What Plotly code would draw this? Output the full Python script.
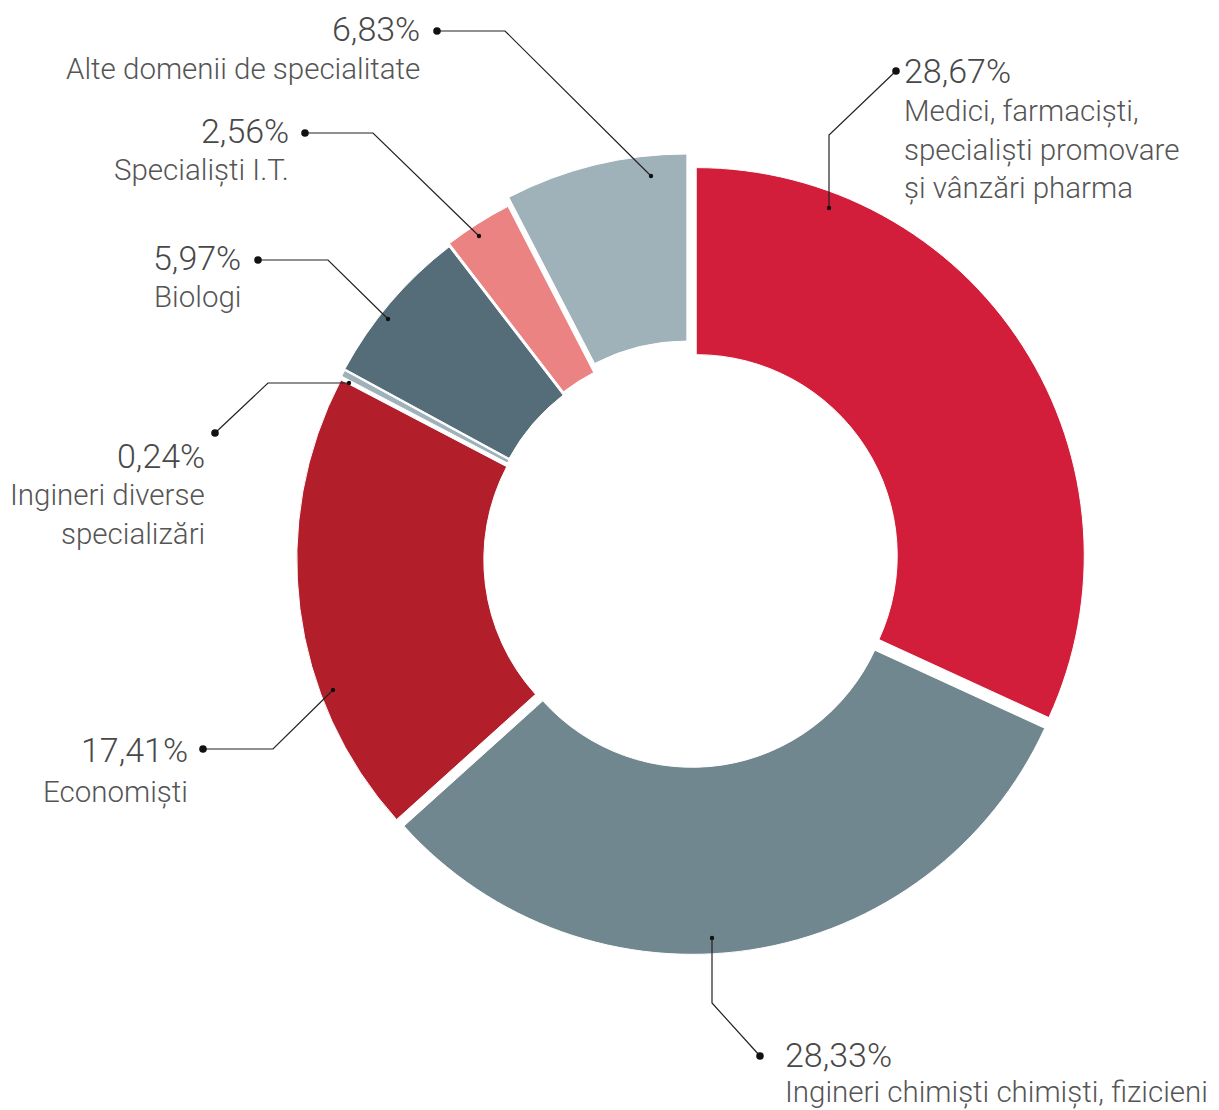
import plotly.graph_objects as go

W, H = 1219, 1110

# ---- data ----
categories = [
    "Medici, farmaciști, specialiști promovare și vânzări pharma",
    "Ingineri chimiști chimiști, fizicieni",
    "Economiști",
    "Ingineri diverse specializări",
    "Biologi",
    "Specialiști I.T.",
    "Alte domenii de specialitate",
]
values = [28.67, 28.33, 17.41, 0.24, 5.97, 2.56, 6.83]
pct_labels = ["28,67%", "28,33%", "17,41%", "0,24%", "5,97%", "2,56%", "6,83%"]
label_lines = [
    ["Medici, farmaciști,", "specialiști promovare", "și vânzări pharma"],
    ["Ingineri chimiști chimiști, fizicieni"],
    ["Economiști"],
    ["Ingineri diverse", "specializări"],
    ["Biologi"],
    ["Specialiști I.T."],
    ["Alte domenii de specialitate"],
]
colors = ["#D21E3A", "#71878F", "#B21F2A", "#A0B2B9", "#546D79", "#EB8383", "#A0B2B9"]
pulls = [0.016, 0.019, 0.016, 0.016, 0.018, 0.024, 0.045]

# ---- layout helpers (pixel -> paper) ----
def px(x):
    return x / W

def py(y):
    return 1 - y / H

cx, cy, box = 691, 559, 811
fig = go.Figure(go.Pie(
    labels=categories,
    values=values,
    hole=0.518,
    sort=False,
    direction="clockwise",
    rotation=0,
    pull=pulls,
    marker=dict(colors=colors, line=dict(color="white", width=1)),
    textinfo="none",
    hoverinfo="label+percent",
    showlegend=False,
    domain=dict(x=[px(cx - box / 2), px(cx + box / 2)],
                y=[py(cy + box / 2), py(cy - box / 2)]),
))

# leader lines: (slice dot, elbow, label dot) in pixels
leaders = [
    [(829, 208), (829, 135), (896, 71)],
    [(712, 938), (712, 1003), (760, 1056)],
    [(333, 690), (273, 749), (203, 749)],
    [(349, 383), (268, 383), (215, 433)],
    [(388, 319), (328, 260), (258, 260)],
    [(479, 236), (373, 133), (305, 133)],
    [(651, 176), (505, 31), (437, 31)],
]
# text anchors: (x, y of percent, y of first label line, align)
text_pos = [
    (902, 71, 111, "left"),
    (783, 1055, 1092, "left"),
    (190, 750, 792, "right"),
    (207, 456, 495, "right"),
    (243, 258, 297, "right"),
    (291, 131, 170, "right"),
    (422, 29, 69, "right"),
]
line_gap = 38.5

shapes = []
annotations = []
for pts, (tx, ty, ly, al), pct, lines in zip(leaders, text_pos, pct_labels, label_lines):
    path = "M " + " L ".join(f"{px(x)},{py(y)}" for x, y in pts)
    shapes.append(dict(type="path", xref="paper", yref="paper", path=path,
                       line=dict(color="#222222", width=1.2)))
    (sx, sy), (ex, ey) = pts[0], pts[-1]
    r1, r2 = 2.2, 3.8
    shapes.append(dict(type="circle", xref="paper", yref="paper",
                       x0=px(sx - r1), x1=px(sx + r1), y0=py(sy + r1), y1=py(sy - r1),
                       fillcolor="#111111", line=dict(width=0)))
    shapes.append(dict(type="circle", xref="paper", yref="paper",
                       x0=px(ex - r2), x1=px(ex + r2), y0=py(ey + r2), y1=py(ey - r2),
                       fillcolor="#111111", line=dict(width=0)))
    annotations.append(dict(x=px(tx), y=py(ty), xref="paper", yref="paper",
                            text=pct, showarrow=False, xanchor=al, yanchor="middle",
                            font=dict(family="Roboto", size=34, color="#484848", weight=300)))
    for i, ln in enumerate(lines):
        annotations.append(dict(x=px(tx), y=py(ly + i * line_gap), xref="paper", yref="paper",
                                text=ln, showarrow=False, xanchor=al, yanchor="middle",
                                font=dict(family="Roboto", size=29.5, color="#555555", weight=300)))

fig.update_layout(
    width=W, height=H,
    margin=dict(l=0, r=0, t=0, b=0),
    paper_bgcolor="white",
    plot_bgcolor="white",
    shapes=shapes,
    annotations=annotations,
)

fig.write_html("out.html", config={"displayModeBar": False},
               post_script="document.body.style.margin='0';")
